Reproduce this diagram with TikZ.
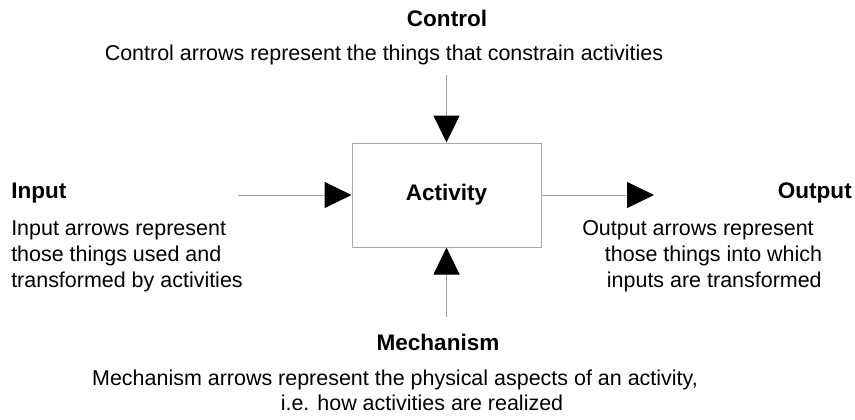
\documentclass[tikz,border=0pt]{standalone}
\usepackage{fontspec}
\setmainfont{Liberation Sans}
\usetikzlibrary{arrows.meta}
\definecolor{lineGray}{RGB}{160,160,160}
\definecolor{boxGray}{RGB}{170,170,170}
\begin{document}
\begin{tikzpicture}[x=0.75pt,y=-0.75pt,
  body/.style={font=\fontsize{16.1}{19.5}\selectfont, inner sep=0pt},
  heading/.style={font=\fontsize{16.9}{20}\selectfont\bfseries, inner sep=0pt},
  activitybox/.style={draw=boxGray, line width=0.75pt, minimum width=141.75pt,
    minimum height=78pt, inner sep=0pt, font=\fontsize{16.9}{20}\selectfont\bfseries},
  flow/.style={draw=lineGray, line width=0.75pt,
    -{Triangle[length=20.25pt,width=19.5pt,color=black]}},
]
\useasboundingbox (0,0) rectangle (855,419);

% central activity box
\node[activitybox] (act) at (446.5,195) {Activity};

% free ends of the four arrows
\coordinate (ctrlStart) at (446.5,75);
\coordinate (inStart) at (238,195);
\coordinate (outEnd) at (654,195);
\coordinate (mechStart) at (446.5,317);

\draw[flow] (ctrlStart) -- (act.north);
\draw[flow] (inStart) -- (act.west);
\draw[flow] (act.east) -- (outEnd);
\draw[flow] (mechStart) -- (act.south);

% control
\node[heading, anchor=base] (ctrlT) at (447,26) {Control};
\node[body, anchor=base] (ctrlD) at (384,60)
  {Control arrows represent the things that constrain activities};

% input (base anchor of a multi-line node sits on its last line)
\node[heading, anchor=base west] (inT) at (11,198) {Input};
\node[body, anchor=base west, align=left] (inD) at (11,287)
  {Input arrows represent\\those things used and\\transformed by activities};

% output
\node[heading, anchor=base east] (outT) at (852,198) {Output};
\node[body, anchor=base west, align=left] (outD) at (582,287)
  {Output arrows represent\\\hspace*{17pt}those things into which\\\hspace*{18.5pt}inputs are transformed};

% mechanism
\node[heading, anchor=base] (mechT) at (438,350) {Mechanism};
\node[body, anchor=base] (mechD1) at (395,385)
  {Mechanism arrows represent the physical aspects of an activity,};
\node[body, anchor=base] (mechD2) at (422,410)
  {i.e. how activities are realized};
\end{tikzpicture}
\end{document}
